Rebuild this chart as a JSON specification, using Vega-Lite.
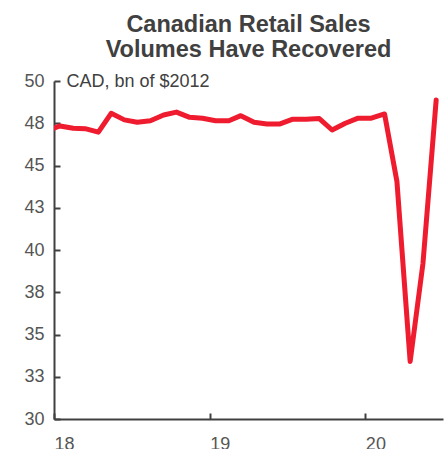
{
  "$schema": "https://vega.github.io/schema/vega-lite/v6.json",
  "autosize": {"type": "none"},
  "padding": {"left": 54, "top": 81, "right": 5, "bottom": 30},
  "width": 389,
  "height": 338,
  "background": "white",
  "config": {
    "view": {"stroke": null},
    "font": "Liberation Sans"
  },
  "title": {
    "text": ["Canadian Retail Sales", "Volumes Have Recovered"],
    "font": "Liberation Sans",
    "fontSize": 23.5,
    "fontWeight": "bold",
    "color": "#404040",
    "lineHeight": 25,
    "anchor": "middle",
    "offset": 11
  },
  "data": {
    "values": [
      {"date": "2017-12-15", "value": 47.05},
      {"date": "2018-01-15", "value": 47.34},
      {"date": "2018-02-15", "value": 47.2},
      {"date": "2018-03-15", "value": 47.18},
      {"date": "2018-04-15", "value": 46.97},
      {"date": "2018-05-15", "value": 48.09},
      {"date": "2018-06-15", "value": 47.7},
      {"date": "2018-07-15", "value": 47.56},
      {"date": "2018-08-15", "value": 47.65},
      {"date": "2018-09-15", "value": 47.99},
      {"date": "2018-10-15", "value": 48.16},
      {"date": "2018-11-15", "value": 47.85},
      {"date": "2018-12-15", "value": 47.8},
      {"date": "2019-01-15", "value": 47.65},
      {"date": "2019-02-15", "value": 47.65},
      {"date": "2019-03-15", "value": 47.95},
      {"date": "2019-04-15", "value": 47.56},
      {"date": "2019-05-15", "value": 47.46},
      {"date": "2019-06-15", "value": 47.46},
      {"date": "2019-07-15", "value": 47.74},
      {"date": "2019-08-15", "value": 47.74},
      {"date": "2019-09-15", "value": 47.78},
      {"date": "2019-10-15", "value": 47.1},
      {"date": "2019-11-15", "value": 47.5},
      {"date": "2019-12-15", "value": 47.8},
      {"date": "2020-01-15", "value": 47.8},
      {"date": "2020-02-15", "value": 48.05},
      {"date": "2020-03-15", "value": 44.05},
      {"date": "2020-04-15", "value": 33.4},
      {"date": "2020-05-15", "value": 39.2},
      {"date": "2020-06-15", "value": 48.88}
    ]
  },
  "mark": {
    "type": "line",
    "color": "#EE1C2E",
    "strokeWidth": 5,
    "strokeCap": "round",
    "strokeJoin": "round",
    "clip": true
  },
  "encoding": {
    "x": {
      "field": "date",
      "type": "temporal",
      "scale": {
        "type": "utc",
        "domain": [
          {"year": 2018, "month": 1, "date": 1, "utc": true},
          {"year": 2020, "month": 7, "date": 1, "utc": true}
        ],
        "nice": false
      },
      "axis": {
        "title": null,
        "format": "%y",
        "tickCount": {"interval": "year", "step": 1},
        "grid": false,
        "domainColor": "#404040",
        "domainWidth": 2,
        "tickColor": "#404040",
        "tickWidth": 2,
        "tickSize": -6,
        "labelFont": "Liberation Sans",
        "labelFontSize": 18,
        "labelColor": "#555555",
        "labelAlign": "left",
        "labelDx": -3,
        "labelPadding": 22,
        "labelFlush": false
      }
    },
    "y": {
      "field": "value",
      "type": "quantitative",
      "scale": {"domain": [30, 50], "nice": false, "zero": false},
      "axis": {
        "title": "CAD, bn of $2012",
        "titleAngle": 0,
        "titleAlign": "left",
        "titleBaseline": "middle",
        "titleX": 12,
        "titleY": 0,
        "titleFont": "Liberation Sans",
        "titleFontSize": 18,
        "titleFontWeight": "normal",
        "titleColor": "#404040",
        "values": [30, 32.5, 35, 37.5, 40, 42.5, 45, 47.5, 50],
        "format": ".0f",
        "grid": false,
        "domainColor": "#404040",
        "domainWidth": 2,
        "tickColor": "#404040",
        "tickWidth": 2,
        "tickSize": -6,
        "labelFont": "Liberation Sans",
        "labelFontSize": 18,
        "labelColor": "#555555",
        "labelPadding": 16,
        "labelFlush": false
      }
    }
  }
}
